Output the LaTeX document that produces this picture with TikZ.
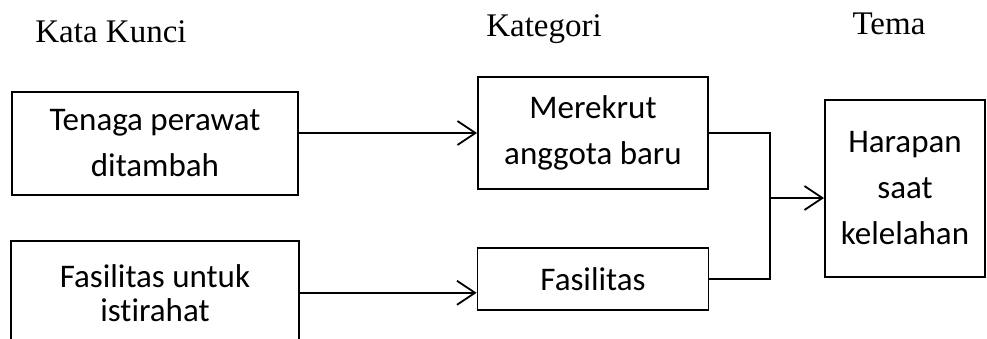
\documentclass[tikz,border=0pt]{standalone}
\usepackage{fontspec}
\setmainfont{Liberation Serif}
\newfontfamily\kotakfont[Ligatures=NoCommon]{Carlito}
\usetikzlibrary{positioning,arrows.meta}

\tikzset{
  kotak/.style={draw, line width=1.8pt, align=center, inner sep=0pt,
    font=\kotakfont\fontsize{33}{46}\selectfont},
  judul/.style={anchor=base, font=\fontsize{33}{36}\selectfont},
  panah/.style={line width=1.8pt, -{Straight Barb[length=18pt,width=24pt,line width=1.8pt]}},
  garis/.style={line width=1.8pt}
}

\begin{document}
\begin{tikzpicture}[x=1pt,y=-1pt]
\clip (0,0) rectangle (987,339);
% judul kolom
\node[judul] (kk) at (111,43) {Kata Kunci};
\node[judul] (kat) at (544,37) {Kategori};
\node[judul] (tm) at (889,35) {Tema};

% kata kunci
\node[kotak, minimum width=286pt, minimum height=103pt] (tenaga) at (155,143.5) {Tenaga perawat\\ditambah};
\node[kotak, minimum width=288pt, minimum height=104pt, below=44pt of tenaga,
  font=\kotakfont\fontsize{33}{34}\selectfont] (istirahat) {Fasilitas untuk\\istirahat};

% kategori
\node[kotak, minimum width=230pt, minimum height=112pt] (merekrut) at (593,133) {Merekrut\\anggota baru};
\node[kotak, minimum width=231pt, minimum height=62pt, below=57pt of merekrut] (fasilitas) {Fasilitas};

% tema
\node[kotak, minimum width=160pt, minimum height=177pt] (harapan) at (905,188.5) {Harapan\\saat\\kelelahan};

\coordinate (temu) at (770,198);

\draw[panah] (tenaga.east |- merekrut.west) -- (merekrut.west);
\draw[panah] (istirahat.east) -- (fasilitas.west |- istirahat.east);
\draw[garis] (merekrut.east) -| (temu) |- (fasilitas.east);
\draw[panah] (temu) -- (temu -| harapan.west);
\end{tikzpicture}
\end{document}
